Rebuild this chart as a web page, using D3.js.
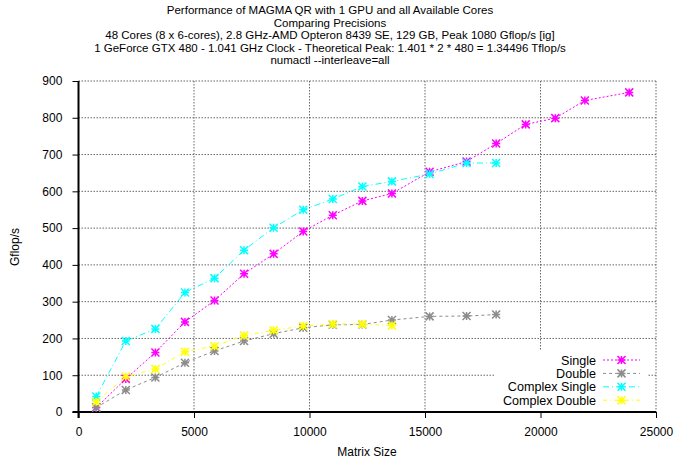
<!DOCTYPE html>
<html><head><meta charset="utf-8">
<script src="https://cdn.jsdelivr.net/npm/d3@7"></script>
<style>
body{margin:0;background:#fff;}
svg{display:block;font-family:"Liberation Sans",Arial,sans-serif;}
</style></head><body>
<svg id="c" width="693" height="461"></svg>
<script>
const titleLines = [
  "Performance of MAGMA QR with 1 GPU and all Available Cores",
  "Comparing Precisions",
  "48 Cores (8 x 6-cores), 2.8 GHz-AMD Opteron 8439 SE, 129 GB, Peak 1080 Gflop/s [ig]",
  "1 GeForce GTX 480 - 1.041 GHz Clock - Theoretical Peak: 1.401 * 2 * 480 = 1.34496 Tflop/s",
  "numactl --interleave=all"
];
const sizes = [768, 2048, 3328, 4608, 5888, 7168, 8448, 9728, 11008, 12288, 13568, 15200, 16800, 18080, 19360, 20640, 21920, 23840];
const single = [12, 90, 162, 245, 303, 376, 430, 491, 535, 574, 594, 653, 681, 730, 782, 799, 847, 869];
const double = [12, 60, 94, 134, 166, 193, 213, 229, 237, 238, 250, 260, 261, 265];
const complexSingle = [42, 193, 226, 325, 364, 440, 501, 550, 579, 613, 627, 647, 677, 677];
const complexDouble = [28, 96, 117, 164, 179, 208, 222, 234, 239, 239, 235];
const xTicks = [0, 5000, 10000, 15000, 20000, 25000];
const yTicks = [0, 100, 200, 300, 400, 500, 600, 700, 800, 900];
const seriesNames = ["Single", "Double", "Complex Single", "Complex Double"];

const series = [
  {name: seriesNames[0], vals: single, color: "#ff00ff", dash: "2,2"},
  {name: seriesNames[1], vals: double, color: "#8c8c8c", dash: "3,3"},
  {name: seriesNames[2], vals: complexSingle, color: "#00ffff", dash: "6,3,1,3"},
  {name: seriesNames[3], vals: complexDouble, color: "#ffff00", dash: "4,3,1,3"}
];

const svg = d3.select("#c");
const L = 78.5, R = 656, T = 81, B = 412;
const x = d3.scaleLinear().domain([0, 25000]).range([L, R]);
const y = d3.scaleLinear().domain([0, 900]).range([B, T]);

// title
svg.append("g").selectAll("text").data(titleLines).join("text")
  .attr("x", 330).attr("y", (d, i) => 14 + i * 12.5)
  .attr("text-anchor", "middle").attr("font-size", 11.5).attr("fill", "#000")
  .text(d => d);

// grid
const grid = svg.append("g").attr("stroke", "#666").attr("stroke-dasharray", "1.5,1.5").attr("stroke-width", 1);
grid.selectAll(".gx").data(xTicks.filter(d => d > 0)).join("line")
  .attr("x1", d => x(d)).attr("x2", d => x(d)).attr("y1", T).attr("y2", B);
grid.selectAll(".gy").data(yTicks.filter(d => d > 0)).join("line")
  .attr("x1", L).attr("x2", R).attr("y1", d => y(d)).attr("y2", d => y(d));

// axes
const xAxis = svg.append("g").attr("transform", `translate(0,${B})`)
  .call(d3.axisBottom(x).tickValues(xTicks).tickFormat(d3.format("d")).tickSize(6).tickSizeOuter(0));
const yAxis = svg.append("g").attr("transform", `translate(${L},0)`)
  .call(d3.axisLeft(y).tickValues(yTicks).tickFormat(d3.format("d")).tickSize(6).tickSizeOuter(0));
[xAxis, yAxis].forEach(a => {
  a.select(".domain").attr("stroke", "#000").attr("stroke-width", 2);
  a.selectAll(".tick line").attr("stroke", "#000").attr("stroke-width", 1);
  a.selectAll("text").attr("font-size", 12).attr("fill", "#000").attr("font-family", "Liberation Sans, Arial, sans-serif");
});
yAxis.selectAll("text").attr("dx", "-0.6em");
xAxis.selectAll("text").attr("dy", "1.25em");
xAxis.select(".domain").attr("d", `M${L-6},0H${R}`);
yAxis.select(".domain").attr("d", `M0,${B+6}V${T}`);

svg.append("text").attr("x", 367).attr("y", 456).attr("text-anchor", "middle")
  .attr("font-size", 12).text("Matrix Size");
svg.append("text").attr("transform", "translate(19,247) rotate(-90)").attr("text-anchor", "middle")
  .attr("font-size", 12).text("Gflop/s");

function star(g, cx, cy, color) {
  const s = 4;
  g.append("path")
    .attr("d", `M${cx-s},${cy}H${cx+s}M${cx},${cy-s}V${cy+s}M${cx-s},${cy-s}L${cx+s},${cy+s}M${cx-s},${cy+s}L${cx+s},${cy-s}`)
    .attr("stroke", color).attr("stroke-width", 1.5).attr("fill", "none");
}

const line = d3.line().x(d => x(d[0])).y(d => y(d[1]));
const plot = svg.append("g");
series.forEach(s => {
  const pts = s.vals.map((v, i) => [sizes[i], v]);
  plot.append("path").datum(pts).attr("d", line)
    .attr("fill", "none").attr("stroke", s.color).attr("stroke-width", 1).attr("stroke-dasharray", s.dash);
  const g = plot.append("g");
  pts.forEach(p => star(g, x(p[0]), y(p[1]), s.color));
});

// legend
const lg = svg.append("g");
lg.append("rect").attr("x", 494).attr("y", 351).attr("width", 154).attr("height", 59).attr("fill", "#fff");
series.forEach((s, i) => {
  const yy = 360 + i * 13.4;
  lg.append("text").attr("x", 596).attr("y", yy + 4.5).attr("text-anchor", "end")
    .attr("font-size", 12.6).text(s.name);
  lg.append("line").attr("x1", 603).attr("x2", 640).attr("y1", yy).attr("y2", yy)
    .attr("stroke", s.color).attr("stroke-dasharray", s.dash).attr("stroke-width", 1);
  star(lg, 621.5, yy, s.color);
});
</script>
</body></html>
